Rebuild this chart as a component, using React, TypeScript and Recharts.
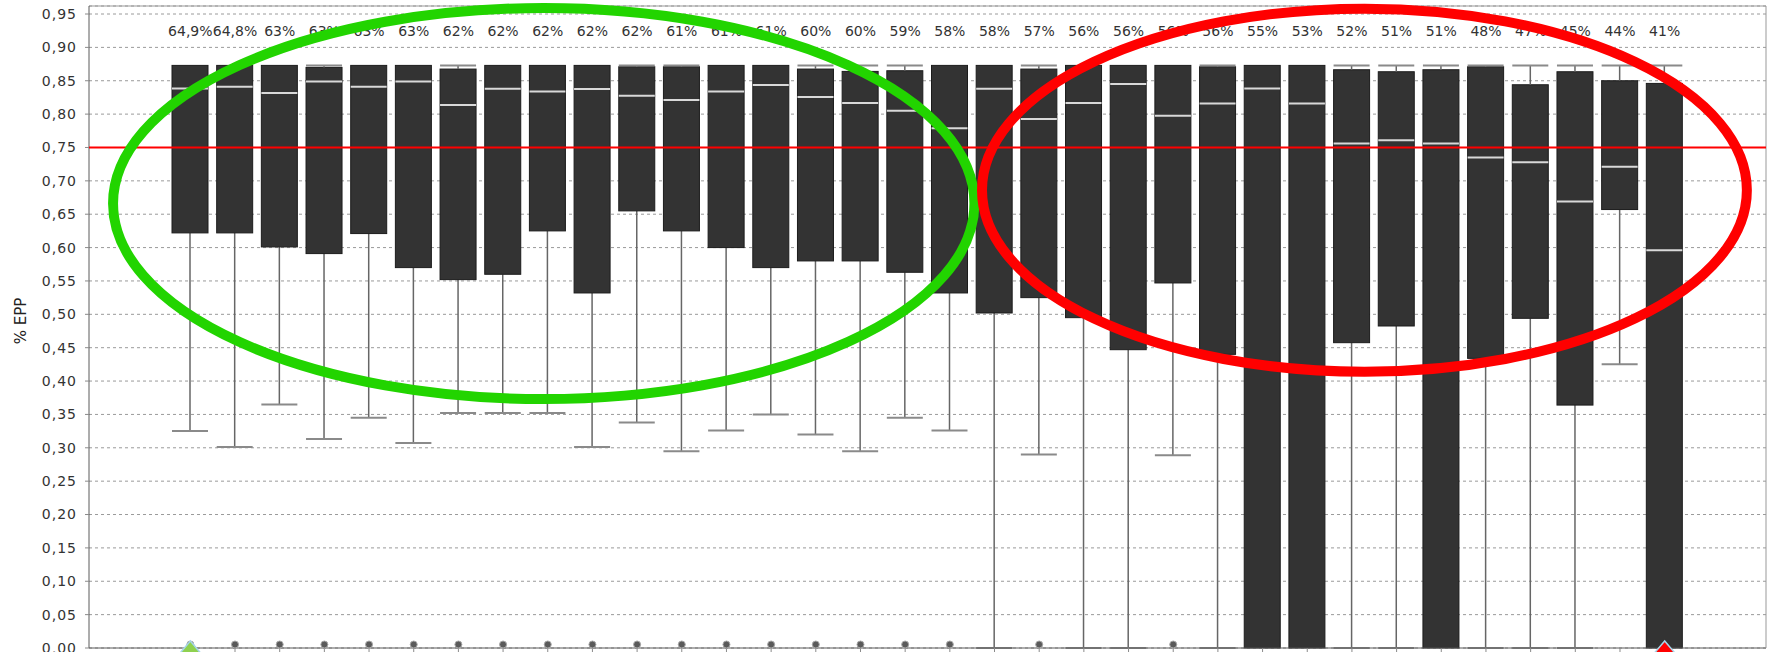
import {
  ComposedChart, Bar, Scatter, XAxis, YAxis, CartesianGrid, ReferenceLine, ReferenceArea,
} from 'recharts';

const W = 1769;
const H = 652;
const FONT = '"DejaVu Sans", Verdana, sans-serif';

// one label per box, above the plot
const pctLabels = [
  '64,9%', '64,8%', '63%', '63%', '63%', '63%', '62%', '62%', '62%', '62%', '62%', '61%',
  '61%', '61%', '60%', '60%', '59%', '58%', '58%', '57%', '56%', '56%', '56%', '56%',
  '55%', '53%', '52%', '51%', '51%', '48%', '47%', '45%', '44%', '41%',
];

const whiskerHigh = [
  0.873, 0.873, 0.873, 0.873, 0.873, 0.873, 0.873, 0.873, 0.873, 0.873, 0.873, 0.873,
  0.873, 0.873, 0.873, 0.873, 0.873, 0.873, 0.873, 0.873, 0.873, 0.873, 0.873, 0.873,
  0.873, 0.873, 0.873, 0.873, 0.873, 0.873, 0.873, 0.873, 0.873, 0.873,
];
const q3 = [
  0.873, 0.873, 0.873, 0.870, 0.873, 0.873, 0.8675, 0.873, 0.873, 0.873, 0.871, 0.871,
  0.873, 0.873, 0.8675, 0.864, 0.865, 0.873, 0.873, 0.8675, 0.873, 0.873, 0.873, 0.871,
  0.873, 0.873, 0.8665, 0.8635, 0.8665, 0.871, 0.844, 0.8635, 0.850, 0.846,
];
const medians = [
  0.8385, 0.841, 0.8315, 0.849, 0.841, 0.849, 0.8135, 0.838, 0.834, 0.8375, 0.8275, 0.821,
  0.834, 0.8435, 0.8255, 0.8165, 0.805, 0.779, 0.838, 0.7925, 0.8165, 0.845, 0.7975, 0.816,
  0.8385, 0.816, 0.756, 0.761, 0.756, 0.735, 0.728, 0.669, 0.721, 0.596,
];
const q1 = [
  0.622, 0.622, 0.601, 0.591, 0.621, 0.570, 0.552, 0.560, 0.625, 0.532, 0.655, 0.625,
  0.600, 0.570, 0.580, 0.580, 0.563, 0.532, 0.502, 0.525, 0.495, 0.447, 0.547, 0.440,
  0, 0, 0.4575, 0.4825, 0, 0.434, 0.494, 0.364, 0.657, 0,
];
const whiskerLow = [
  0.325, 0.301, 0.365, 0.313, 0.345, 0.307, 0.352, 0.352, 0.352, 0.301, 0.338, 0.295,
  0.326, 0.350, 0.320, 0.295, 0.345, 0.326, 0, 0.290, 0, 0, 0.289, 0,
  0, 0, 0, 0, 0, 0, 0, 0, 0.425, 0,
];
// outliers sitting on 0 (null = none)
const lowOutliers = [
  0, 0, 0, 0, 0, 0, 0, 0, 0, 0, 0, 0,
  0, 0, 0, 0, 0, 0, null, 0, null, null, 0, null,
  null, null, null, null, null, null, null, null, null, null,
];
const flags = [
  { idx: 0, kind: 'best' },
  { idx: 33, kind: 'worst' },
];

const yTicks = [0, 0.05, 0.1, 0.15, 0.2, 0.25, 0.3, 0.35, 0.4, 0.45, 0.5, 0.55, 0.6, 0.65, 0.7, 0.75, 0.8, 0.85, 0.9, 0.95];
const Y_MAX = 0.962;
const THRESHOLD = 0.75;

// hand-drawn groupings: first/last box, overshoot in box widths, y extent
const greenGroup = { from: 0, to: 17, overL: 1.23, overR: 0.05, y1: 0.373, y2: 0.959 };
const redGroup = { from: 18, to: 33, overL: -0.22, overR: 1.34, y1: 0.414, y2: 0.958 };

const rows = pctLabels.map((pct, i) => ({
  name: `B${i + 1}`,
  pct,
  q3: q3[i],
  med: medians[i],
  q1: q1[i],
  base: whiskerLow[i],
  lowW: q1[i] - whiskerLow[i],
  box: q3[i] - q1[i],
  highW: whiskerHigh[i] - q3[i],
}));
const outlierRows = rows
  .map((r, i) => ({ name: r.name, v: lowOutliers[i] }))
  .filter((r) => r.v != null);
const flagRows = flags.map((f) => ({ name: rows[f.idx].name, v: 0, kind: f.kind }));
const pctByName: Record<string, string> = Object.fromEntries(rows.map((r) => [r.name, r.pct]));

const LEFT_W = 89;
const RIGHT_W = 3;
const PAD = 79;

const fmt = (v: number) => v.toFixed(2).replace('.', ',');

const Empty = () => <g />;

const LowWhisker = (p: any) => {
  const { x, y, width, height } = p;
  if (!(height > 0.5)) return <g />;
  const cx = x + width / 2;
  return (
    <g>
      <line x1={cx} x2={cx} y1={y} y2={y + height} stroke="#666" strokeWidth={1.5} />
      <line x1={x} x2={x + width} y1={y + height} y2={y + height} stroke="#8a8a8a" strokeWidth={2} />
    </g>
  );
};

const HighWhisker = (p: any) => {
  const { x, y, width, height } = p;
  if (!(height > 0.5)) return <g />;
  const cx = x + width / 2;
  return (
    <g>
      <line x1={cx} x2={cx} y1={y} y2={y + height} stroke="#666" strokeWidth={1.5} />
      <line x1={x} x2={x + width} y1={y} y2={y} stroke="#8a8a8a" strokeWidth={2} />
    </g>
  );
};

const BoxShape = (p: any) => {
  const { x, y, width, height, payload } = p;
  if (!(height > 0.5)) return <g />;
  const my = y + (height * (payload.q3 - payload.med)) / (payload.q3 - payload.q1);
  return (
    <g>
      <rect x={x} y={y} width={width} height={height} fill="#333333" stroke="#1c1c1c" strokeWidth={1} />
      <line x1={x} x2={x + width} y1={my} y2={my} stroke="#d9d9d9" strokeWidth={2} />
    </g>
  );
};

const OutlierDot = ({ cx, cy }: any) => (
  <circle cx={cx} cy={cy - 3.5} r={3.5} fill="#5a5a5a" stroke="#a8a8a8" strokeWidth={1} />
);

const FlagMark = ({ cx, cy, payload }: any) => (
  <polygon
    points={`${cx},${cy - 7} ${cx - 17},${cy + 13} ${cx + 17},${cy + 13}`}
    fill={payload.kind === 'best' ? '#8fd14f' : '#ff0000'}
    stroke="#a6d6ea" strokeWidth={1.5}
  />
);

const TopTick = ({ x, y, payload }: any) => (
  <text x={x} y={y + 30} textAnchor="middle" fontSize={14} fill="#333" fontFamily={FONT}>
    {pctByName[payload.value]}
  </text>
);

// ellipse around a run of boxes; the area rect covers the boxes' bands
const ellipseShape = (g: typeof greenGroup, color: string) => (p: any) => {
  const { x, y, width, height } = p;
  if (![x, y, width, height].every(Number.isFinite)) return <g />;
  const bw = width / (g.to - g.from + 1);
  const left = x - g.overL * bw;
  const right = x + width + g.overR * bw;
  return (
    <ellipse
      cx={(left + right) / 2} cy={y + height / 2} rx={(right - left) / 2} ry={height / 2}
      fill="none" stroke={color} strokeWidth={10}
    />
  );
};

export default function App() {
  return (
    <div style={{ position: 'absolute', left: 0, top: 0, width: W, height: H, background: '#fff' }}>
      <ComposedChart width={W} height={H} data={rows} margin={{ top: 0, right: 0, bottom: 0, left: 0 }}>
        <CartesianGrid xAxisId="c" yAxisId="v" vertical={false} stroke="#9a9a9a" strokeDasharray="3 3" />
        <XAxis
          xAxisId="c" dataKey="name" height={4} padding={{ left: PAD, right: PAD }}
          allowDuplicatedCategory={false} interval={0} tickSize={5} tick={Empty}
          axisLine={{ stroke: '#5a5a5a' }} tickLine={{ stroke: '#8a8a8a' }}
        />
        <XAxis
          xAxisId="top" orientation="top" dataKey="name" height={6} padding={{ left: PAD, right: PAD }}
          allowDuplicatedCategory={false} interval={0} tickSize={0} tickMargin={0} tickLine={false}
          tick={TopTick} axisLine={{ stroke: '#999' }}
        />
        <YAxis
          yAxisId="v" type="number" domain={[0, Y_MAX]} ticks={yTicks}
          width={LEFT_W} tickSize={4} tickMargin={8} tickFormatter={fmt} interval={0}
          tick={{ fontSize: 14, fill: '#333', fontFamily: FONT, letterSpacing: 1 }}
          axisLine={{ stroke: '#5a5a5a' }} tickLine={{ stroke: '#8a8a8a' }}
          label={{
            content: ({ viewBox }: any) => {
              const lx = viewBox.x + 21;
              const ly = viewBox.y + viewBox.height / 2 - 6;
              return (
                <text x={lx} y={ly} transform={`rotate(-90 ${lx} ${ly})`} textAnchor="middle"
                  dominantBaseline="central" fontSize={15} fill="#222" fontFamily={FONT}>
                  % EPP
                </text>
              );
            },
          }}
        />
        <YAxis yAxisId="r" orientation="right" width={RIGHT_W} domain={[0, 1]} tick={false} tickLine={false} axisLine={{ stroke: '#999' }} />

        <Bar xAxisId="c" yAxisId="v" dataKey="base" stackId="b" barSize={36} shape={Empty} isAnimationActive={false} />
        <Bar xAxisId="c" yAxisId="v" dataKey="lowW" stackId="b" barSize={36} shape={LowWhisker} isAnimationActive={false} />
        <Bar xAxisId="c" yAxisId="v" dataKey="box" stackId="b" barSize={36} shape={BoxShape} isAnimationActive={false} />
        <Bar xAxisId="c" yAxisId="v" dataKey="highW" stackId="b" barSize={36} shape={HighWhisker} isAnimationActive={false} />

        <Scatter xAxisId="c" yAxisId="v" data={outlierRows} dataKey="v" shape={OutlierDot} isAnimationActive={false} />
        <Scatter xAxisId="c" yAxisId="v" data={flagRows} dataKey="v" shape={FlagMark} isAnimationActive={false} />

        <ReferenceLine xAxisId="c" yAxisId="v" y={THRESHOLD} stroke="#ff0000" strokeWidth={2} zIndex={2500} />
        <ReferenceArea
          xAxisId="c" yAxisId="v" x1={rows[greenGroup.from].name} x2={rows[greenGroup.to].name}
          y1={greenGroup.y1} y2={greenGroup.y2} ifOverflow="visible" zIndex={3000}
          shape={ellipseShape(greenGroup, '#22d400')}
        />
        <ReferenceArea
          xAxisId="c" yAxisId="v" x1={rows[redGroup.from].name} x2={rows[redGroup.to].name}
          y1={redGroup.y1} y2={redGroup.y2} ifOverflow="visible" zIndex={3000}
          shape={ellipseShape(redGroup, '#ff0000')}
        />
      </ComposedChart>
    </div>
  );
}
